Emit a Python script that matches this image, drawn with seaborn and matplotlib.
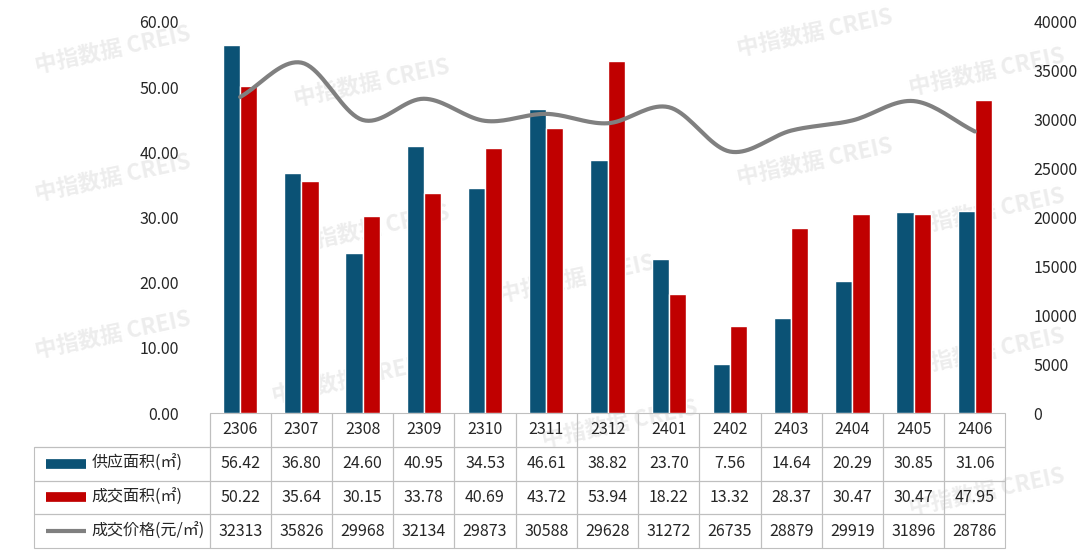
import numpy as np
import matplotlib
matplotlib.use("Agg")
import matplotlib.pyplot as plt
import seaborn as sns
from matplotlib.lines import Line2D

sns.set_style("white")
plt.rcParams["font.family"] = "sans-serif"
plt.rcParams["font.sans-serif"] = ["Noto Sans CJK SC", "Noto Sans CJK JP", "DejaVu Sans"]

months = ["2306", "2307", "2308", "2309", "2310", "2311", "2312",
          "2401", "2402", "2403", "2404", "2405", "2406"]
supply = [56.42, 36.80, 24.60, 40.95, 34.53, 46.61, 38.82, 23.70, 7.56, 14.64, 20.29, 30.85, 31.06]
deal = [50.22, 35.64, 30.15, 33.78, 40.69, 43.72, 53.94, 18.22, 13.32, 28.37, 30.47, 30.47, 47.95]
price = [32313, 35826, 29968, 32134, 29873, 30588, 29628, 31272, 26735, 28879, 29919, 31896, 28786]
row_names = ["供应面积(㎡)", "成交面积(㎡)", "成交价格(元/㎡)"]

c_blue, c_red, c_gray = "#0b5275", "#c00000", "#808080"

fig = plt.figure(figsize=(10.8, 5.59), dpi=100)

# watermarks (behind everything)
for wx, wy in [(0.03, 0.87), (0.27, 0.81), (0.03, 0.64), (0.27, 0.55), (0.68, 0.90),
               (0.68, 0.67), (0.46, 0.46), (0.03, 0.36), (0.84, 0.83), (0.84, 0.58),
               (0.84, 0.33), (0.84, 0.08), (0.25, 0.28), (0.5, 0.2)]:
    fig.text(wx, wy, "中指数据 CREIS", fontsize=16, color="#ededed", rotation=12,
             fontweight="bold", zorder=-5)

ax = fig.add_axes([0.194, 0.261, 0.737, 0.700])
ax.patch.set_alpha(0)
x = np.arange(len(months))
w = 0.28
ax.bar(x - w / 2, supply, w, color=c_blue)
ax.bar(x + w / 2, deal, w, color=c_red)
ax.set_xlim(-0.5, len(months) - 0.5)
ax.set_ylim(0, 60)
ax.set_yticks(np.arange(0, 61, 10))
ax.set_yticklabels([f"{v:.2f}" for v in np.arange(0, 61, 10)])
ax.set_xticks([])
for s in ax.spines.values():
    s.set_visible(False)
ax.tick_params(axis="y", labelsize=11.5, length=0, pad=22)

# smooth price line (Catmull-Rom through data points)
def smooth(xs, ys, n=20):
    p = np.array(ys, float)
    p = np.concatenate([[2 * p[0] - p[1]], p, [2 * p[-1] - p[-2]]])
    ox, oy = [], []
    for i in range(1, len(p) - 2):
        t = np.linspace(0, 1, n, endpoint=False)
        p0, p1, p2, p3 = p[i - 1], p[i], p[i + 1], p[i + 2]
        yy = 0.5 * ((2 * p1) + (-p0 + p2) * t + (2 * p0 - 5 * p1 + 4 * p2 - p3) * t ** 2
                    + (-p0 + 3 * p1 - 3 * p2 + p3) * t ** 3)
        ox.extend(xs[i - 1] + t)
        oy.extend(yy)
    ox.append(xs[-1]); oy.append(ys[-1])
    return ox, oy

ax2 = ax.twinx()
ax2.patch.set_alpha(0)
sx, sy = smooth(x, price)
ax2.plot(sx, sy, color=c_gray, lw=3)
ax2.set_ylim(0, 40000)
ax2.set_yticks(np.arange(0, 40001, 5000))
ax2.tick_params(axis="y", labelsize=11.5, length=0, pad=20)
for s in ax2.spines.values():
    s.set_visible(False)

# data table
th = 0.345
cells = [[""] + months,
         [""] + [f"{v:.2f}" for v in supply],
         [""] + [f"{v:.2f}" for v in deal],
         [""] + [str(v) for v in price]]
lw_frac = 0.22
tbl = ax.table(cellText=cells, cellLoc="center",
               colWidths=[lw_frac] + [1 / len(months)] * len(months),
               bbox=[-lw_frac, -th, 1 + lw_frac, th])
tbl.auto_set_font_size(False)
tbl.set_fontsize(11.5)
for (r, c), cell in tbl.get_celld().items():
    cell.set_edgecolor("#bfbfbf")
    cell.set_linewidth(0.8)
    cell.set_facecolor("none")
    if r == 0 and c == 0:
        cell.visible_edges = "BR"

row_h = th / 4
handles = [("bar", c_blue), ("bar", c_red), ("line", c_gray)]
for i, (name, (kind, col)) in enumerate(zip(row_names, handles)):
    yc = -row_h * (i + 1.5)
    lw = 7 if kind == "bar" else 3
    ax.add_line(Line2D([-0.205, -0.155], [yc, yc], color=col, lw=lw,
                       transform=ax.transAxes, clip_on=False, solid_capstyle="butt"))
    ax.text(-0.148, yc, name, transform=ax.transAxes, va="center", ha="left", fontsize=11.5)

fig.savefig("out.png", dpi=100)
